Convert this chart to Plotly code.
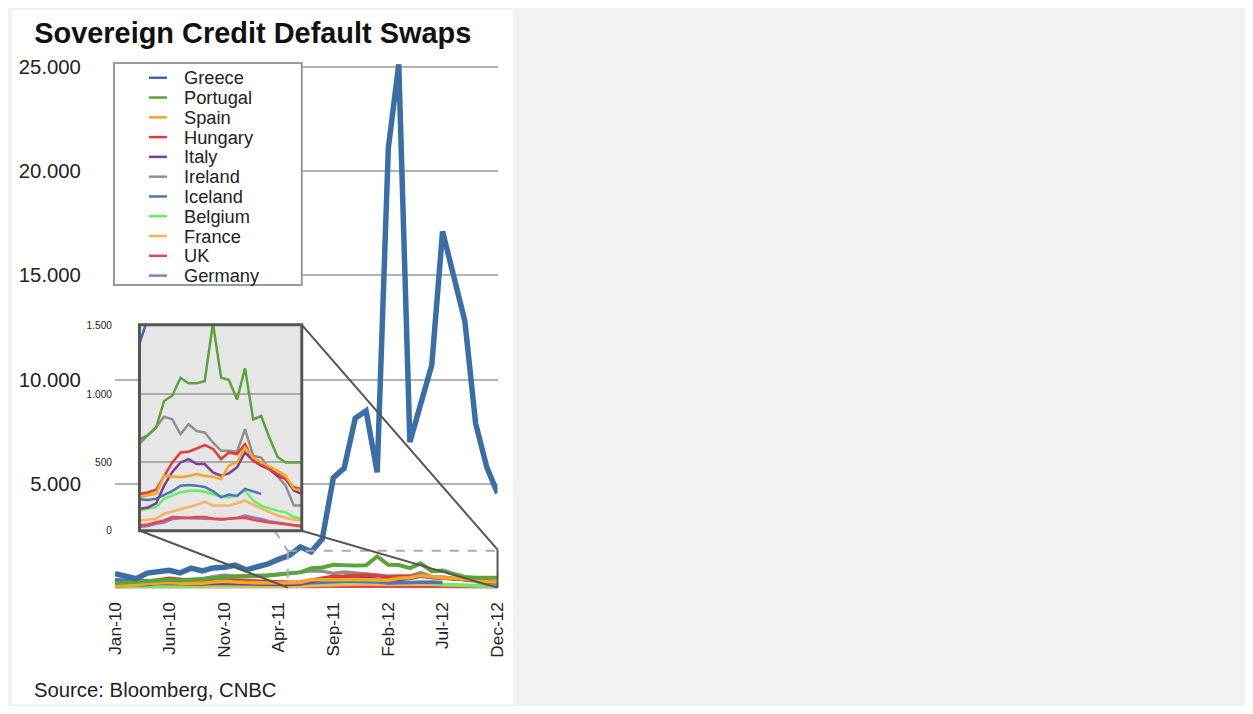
import pandas as pd
import plotly.graph_objects as go

# monthly observations, Jan-10 .. Dec-12
months = pd.date_range("2010-01-01", periods=36, freq="MS")

countries = ["Greece", "Portugal", "Spain", "Hungary", "Italy", "Ireland",
             "Iceland", "Belgium", "France", "UK", "Germany"]
colors = ["#3a6ea5", "#5ba33b", "#f5a623", "#e03c36", "#7d3c98", "#8f8f8f",
          "#4a78b5", "#66ee66", "#f8b25a", "#e24a4a", "#a070c0"]

greece = [700, 560, 450, 720, 780, 860, 730, 960, 830, 970, 1000, 1100,
          880, 1020, 1150, 1380, 1560, 1980, 1740, 2350, 5300, 5750, 8150, 8500,
          5550, 21100, 25100, 7000, 8900, 10700, 17100, 15000, 12800, 7900, 5800, 4550]
portugal = [250, 280, 300, 330, 380, 400, 380, 400, 450, 480, 520, 540,
            560, 580, 600, 670, 700, 755, 950, 990, 1120, 1080, 1080, 1095,
            1520, 1120, 1105, 960, 1190, 815, 840, 680, 540, 500, 500, 500]
spain = [110, 120, 150, 220, 260, 270, 240, 220, 240, 300, 330, 290,
         270, 240, 245, 245, 260, 270, 403, 395, 391, 400, 415, 400,
         395, 379, 476, 500, 609, 536, 500, 470, 440, 403, 306, 294]
hungary = [230, 220, 250, 320, 400, 480, 430, 360, 380, 420, 400, 380,
           370, 330, 300, 270, 280, 300, 400, 500, 573, 578, 602, 626,
           600, 524, 573, 561, 634, 512, 488, 452, 420, 379, 318, 306]
italy = [110, 120, 130, 180, 230, 220, 200, 190, 200, 230, 220, 210,
         200, 170, 160, 160, 170, 200, 330, 430, 500, 524, 488, 488,
         427, 403, 420, 464, 573, 512, 476, 450, 400, 379, 294, 270]
ireland = [160, 170, 180, 250, 280, 270, 300, 330, 450, 550, 620, 580,
           600, 610, 620, 640, 700, 760, 835, 816, 706, 779, 730, 719,
           646, 585, 585, 578, 743, 548, 536, 452, 400, 330, 184, 184]
iceland = [400, 380, 350, 350, 330, 320, 300, 280, 280, 300, 290, 260,
           240, 240, 230, 230, 225, 235, 260, 290, 330, 335, 330, 320,
           290, 245, 265, 255, 306, 290, 270, None, None, None, None, None]
belgium = [45, 50, 60, 90, 120, 110, 100, 110, 130, 170, 180, 150,
           140, 130, 145, 148, 160, 172, 233, 260, 282, 290, 294, 285,
           270, 250, 245, 255, 294, 221, 184, 165, 145, 136, 100, 87]
france = [25, 30, 40, 60, 80, 70, 65, 60, 70, 90, 100, 90,
          85, 75, 75, 75, 80, 87, 124, 140, 160, 175, 190, 213,
          184, 184, 184, 200, 221, 190, 165, 140, 111, 95, 80, 75]
uk = [75, 70, 70, 80, 85, 80, 70, 60, 60, 70, 70, 65,
      60, 50, 40, 40, 45, 63, 75, 100, 95, 95, 100, 100,
      90, 85, 88, 90, 95, 80, 70, 60, 55, 45, 35, 30]
germany = [25, 25, 30, 40, 45, 40, 35, 35, 40, 50, 55, 50,
           45, 35, 27, 27, 35, 50, 60, 85, 92, 92, 90, 90,
           85, 80, 85, 95, 111, 100, 85, 70, 60, 50, 42, 39]

series = [greece, portugal, spain, hungary, italy, ireland,
          iceland, belgium, france, uk, germany]

main_ticks = [5000, 10000, 15000, 20000, 25000]
inset_ticks = [0, 500, 1000, 1500]

# the page ends up framed and slightly shrunk in the snapshot,
# so map the wanted screen pixels back to figure pixels
W, H = 1237, 698
S = 0.985
AX, AY = 15.9, 12.9
FONT = "Liberation Sans, Arial, sans-serif"


def px(x):
    return ((x - AX) / S) / W


def py(y):
    return 1 - ((y - AY) / S) / H


def fs(size):
    return size / S


fig = go.Figure()

# draw back to front so Greece ends on top
for name, color, vals in reversed(list(zip(countries, colors, series))):
    w = 5.5 if name == "Greece" else (4 if name == "Portugal" else 3.5)
    fig.add_trace(go.Scatter(
        x=months, y=vals, mode="lines", name=name,
        line=dict(color=color, width=w), showlegend=False
    ))
    fig.add_trace(go.Scatter(
        x=months, y=vals, mode="lines", name=name,
        xaxis="x2", yaxis="y2",
        line=dict(color=color, width=2.5), showlegend=False
    ))

shapes = []

# white card behind everything
shapes.append(dict(type="rect", xref="paper", yref="paper", layer="below",
                   x0=px(10), x1=px(512), y0=py(705), y1=py(10),
                   fillcolor="white", line=dict(width=0)))

# zoom region marker and connectors
dark = dict(color="#555555", width=2)
dash = dict(color="#aaaaaa", width=2, dash="dash")
for (x0, y0, x1, y1, ln) in [
    (286, 551, 496, 551, dash),
    (286, 551, 286, 588, dash),
    (272.8, 531, 286, 551, dash),
    (300, 325, 496, 550, dark),
    (496, 550, 496, 588, dark),
    (138, 531, 286, 588, dark),
    (300, 531, 496, 588, dark),
]:
    shapes.append(dict(type="line", xref="paper", yref="paper",
                       x0=px(x0), y0=py(y0), x1=px(x1), y1=py(y1), line=ln))

# inset frame
shapes.append(dict(type="rect", xref="paper", yref="paper",
                   x0=px(137.5), x1=px(300), y0=py(531), y1=py(325),
                   line=dict(color="#555555", width=3)))

# legend box
shapes.append(dict(type="rect", xref="paper", yref="paper",
                   x0=px(112), x1=px(300), y0=py(285), y1=py(63),
                   fillcolor="white", line=dict(color="#9a9a9a", width=2)))

annotations = []
for i, (name, color) in enumerate(zip(countries, colors)):
    yy = 77.7 + 19.8 * i
    shapes.append(dict(type="line", xref="paper", yref="paper",
                       x0=px(147), x1=px(165), y0=py(yy), y1=py(yy),
                       line=dict(color=color, width=2.5)))
    annotations.append(dict(x=px(180), y=py(yy), xref="paper", yref="paper",
                            text=name, showarrow=False, xanchor="left",
                            yanchor="middle",
                            font=dict(size=fs(18), color="#222", family=FONT)))

annotations.append(dict(x=px(30), y=py(690), xref="paper", yref="paper",
                        text="Source: Bloomberg, CNBC", showarrow=False,
                        xanchor="left", yanchor="middle",
                        font=dict(size=fs(20), color="#222", family=FONT)))

fig.update_layout(
    width=W, height=H,
    margin=dict(l=0, r=0, t=0, b=0),
    paper_bgcolor="#f2f2f2",
    plot_bgcolor="#e6e6e6",
    separators=",.",
    font=dict(family=FONT, color="#333"),
    title=dict(text="<b>Sovereign Credit Default Swaps</b>",
               x=px(257), y=py(37), xanchor="center", yanchor="middle",
               font=dict(size=fs(28.5), color="#111", family=FONT)),
    shapes=shapes,
    annotations=annotations,
    xaxis=dict(
        domain=[px(113), px(496)],
        type="date", range=["2010-01-01", "2012-12-01"],
        tick0="2010-01-01", dtick="M5", tickformat="%b-%y",
        tickangle=-90, tickfont=dict(size=fs(17), color="#222"),
        ticks="outside", ticklen=6, tickcolor="rgba(0,0,0,0)",
        showgrid=False, zeroline=False, showline=False,
    ),
    yaxis=dict(
        domain=[py(588.5), py(60.2)],
        range=[0, 25300], tickvals=main_ticks, tickformat=",d",
        tickfont=dict(size=fs(20), color="#222"),
        ticks="outside", ticklen=29, tickcolor="rgba(0,0,0,0)",
        showgrid=True, gridcolor="#b3b3b3", gridwidth=2,
        zeroline=False, showline=False,
    ),
    xaxis2=dict(
        domain=[px(138), px(300)], anchor="y2",
        type="date", range=["2011-04-01", "2012-12-01"],
        showticklabels=False, showgrid=False, zeroline=False, ticks="",
    ),
    yaxis2=dict(
        domain=[py(531), py(326)], anchor="x2",
        range=[0, 1500], tickvals=inset_ticks, tickformat=",d",
        tickfont=dict(size=fs(10), color="#222"),
        ticks="outside", ticklen=25, tickcolor="rgba(0,0,0,0)",
        showgrid=True, gridcolor="#aaaaaa", gridwidth=1.5, zeroline=False,
    ),
)

fig.write_html("out.html")
